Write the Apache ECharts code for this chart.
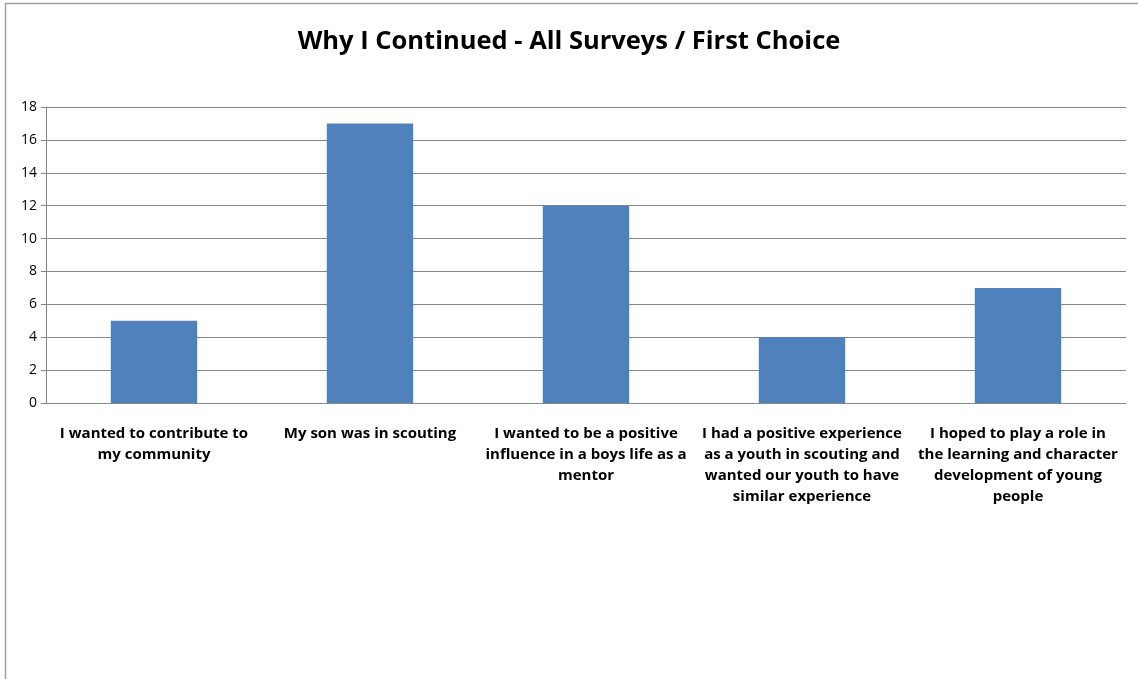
<!DOCTYPE html>
<html>
<head>
<meta charset="utf-8">
<script src="https://cdn.jsdelivr.net/npm/echarts@6/dist/echarts.min.js"></script>
<style>
  html, body { margin: 0; padding: 0; background: #fff; }
  #chart { width: 1138px; height: 679px; }
</style>
</head>
<body>
<div id="chart"></div>
<script>
// Survey reasons (first choice) and response counts
const categories = [
  'I wanted to contribute to\nmy community',
  'My son was in scouting',
  'I wanted to be a positive\ninfluence in a boys life as a\nmentor',
  'I had a positive experience\nas a youth in scouting and\nwanted our youth to have\nsimilar experience',
  'I hoped to play a role in\nthe learning and character\ndevelopment of young\npeople'
];
const counts = [5, 17, 12, 4, 7];
const yTicks = { min: 0, max: 18, interval: 2 };

const chart = echarts.init(document.getElementById('chart'));
const font = '"Open Sans", "Liberation Sans", sans-serif';

chart.setOption({
  animation: false,
  backgroundColor: '#fff',
  title: {
    text: 'Why I Continued - All Surveys / First Choice',
    left: 'center',
    top: 24,
    textStyle: { fontFamily: font, fontWeight: 'bold', fontSize: 25.5, color: '#000' }
  },
  graphic: [{
    type: 'rect',
    shape: { x: 5.5, y: 3.5, width: 1200, height: 800 },
    style: { fill: 'none', stroke: '#a0a0a0', lineWidth: 1.5 },
    silent: true
  }],
  grid: { left: 46, right: 12, top: 107, bottom: 276 },
  xAxis: {
    type: 'category',
    data: categories,
    axisLine: { lineStyle: { color: '#868686' } },
    axisTick: { length: 6, lineStyle: { color: '#868686' } },
    axisLabel: {
      interval: 0,
      margin: 20,
      fontFamily: font,
      fontWeight: 'bold',
      fontSize: 15,
      lineHeight: 21,
      color: '#000',
      align: 'center',
      verticalAlign: 'top'
    }
  },
  yAxis: {
    type: 'value',
    min: yTicks.min,
    max: yTicks.max,
    interval: yTicks.interval,
    axisLine: { show: true, lineStyle: { color: '#868686' } },
    axisTick: { show: true, length: 5, lineStyle: { color: '#868686' } },
    splitLine: { lineStyle: { color: '#868686', width: 1 } },
    axisLabel: { fontFamily: font, fontSize: 14, color: '#000', margin: 9 }
  },
  series: [{
    type: 'bar',
    data: counts,
    barWidth: '40%',
    itemStyle: { color: '#4F81BD' }
  }]
});
</script>
</body>
</html>
